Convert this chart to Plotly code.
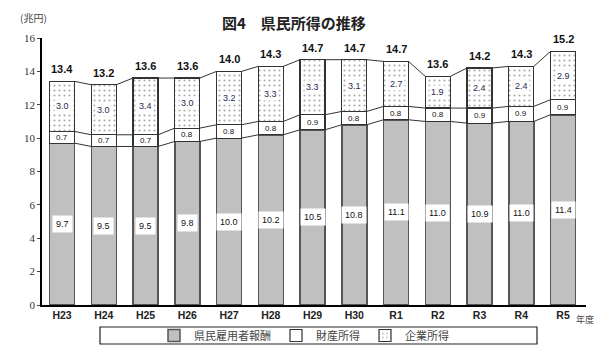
import plotly.graph_objects as go

categories = ["H23", "H24", "H25", "H26", "H27", "H28", "H29", "H30", "R1", "R2", "R3", "R4", "R5"]
employee = [9.7, 9.5, 9.5, 9.8, 10.0, 10.2, 10.5, 10.8, 11.1, 11.0, 10.9, 11.0, 11.4]
property_inc = [0.7, 0.7, 0.7, 0.8, 0.8, 0.8, 0.9, 0.8, 0.8, 0.8, 0.9, 0.9, 0.9]
corporate = [3.0, 3.0, 3.4, 3.0, 3.2, 3.3, 3.3, 3.1, 2.7, 1.9, 2.4, 2.4, 2.9]
totals = [13.4, 13.2, 13.6, 13.6, 14.0, 14.3, 14.7, 14.7, 14.7, 13.6, 14.2, 14.3, 15.2]
y_ticks = [0, 2, 4, 6, 8, 10, 12, 14, 16]

xs = list(range(len(categories)))
W = 0.6

fig = go.Figure()
fig.add_trace(go.Bar(x=xs, y=employee, width=W, name="県民雇用者報酬",
                     marker=dict(color="#c0c0c0", line=dict(color="#555555", width=1.5))))
fig.add_trace(go.Bar(x=xs, y=property_inc, width=W, name="財産所得",
                     marker=dict(color="white", line=dict(color="#333333", width=1.2))))
fig.add_trace(go.Bar(x=xs, y=corporate, width=W, name="企業所得",
                     marker=dict(color="white", line=dict(color="#333333", width=1.2),
                                 pattern=dict(shape=".", fgcolor="#555555", bgcolor="white",
                                              size=5, solidity=0.15))))

# connector lines
lvl1 = employee
lvl2 = [a + b for a, b in zip(employee, property_inc)]
lvl3 = [a + b + c for a, b, c in zip(employee, property_inc, corporate)]
for lv in (lvl1, lvl2, lvl3):
    for i in range(len(xs) - 1):
        fig.add_trace(go.Scatter(x=[xs[i] + W / 2, xs[i + 1] - W / 2], y=[lv[i], lv[i + 1]],
                                 mode="lines", line=dict(color="#333333", width=1),
                                 showlegend=False, hoverinfo="skip"))

anns = []
for i, x in enumerate(xs):
    anns.append(dict(x=x, y=employee[i] / 2, text=f"{employee[i]:.1f}", showarrow=False,
                     bgcolor="white", font=dict(size=9, color="#111", family="Arial"),
                     borderpad=3))
    anns.append(dict(x=x, y=employee[i] + property_inc[i] / 2, text=f"{property_inc[i]:.1f}",
                     showarrow=False, bgcolor="white",
                     font=dict(size=8, color="#111", family="Arial"), borderpad=0))
    anns.append(dict(x=x, y=lvl2[i] + corporate[i] / 2, text=f"{corporate[i]:.1f}",
                     showarrow=False, bgcolor="white",
                     font=dict(size=9, color="#2a2a55", family="Arial"), borderpad=1))
    anns.append(dict(x=x, y=lvl3[i], yshift=12, text=f"<b>{totals[i]:.1f}</b>", showarrow=False,
                     font=dict(size=11, color="#111", family="Arial")))

anns.append(dict(xref="paper", yref="paper", x=0.5, xshift=-20, y=1, yshift=16, xanchor="center",
                 yanchor="middle",
                 text="<b>図4　県民所得の推移</b>", showarrow=False,
                 font=dict(size=15, color="#222", family="Noto Sans CJK JP")))
anns.append(dict(xref="paper", yref="paper", x=0, xshift=-24, y=1, yshift=21, xanchor="left",
                 yanchor="middle",
                 text="(兆円)", showarrow=False,
                 font=dict(size=10, color="#444", family="Noto Sans CJK JP")))
anns.append(dict(xref="paper", yref="paper", x=1, xshift=-12, y=0, yshift=-14, xanchor="left",
                 yanchor="middle",
                 text="年度", showarrow=False,
                 font=dict(size=9, color="#444", family="Noto Sans CJK JP")))

fig.update_layout(
    barmode="stack",
    width=613, height=353,
    margin=dict(l=42, r=27, t=38, b=48, autoexpand=False),
    paper_bgcolor="white", plot_bgcolor="white",
    annotations=anns,
    shapes=[dict(type="rect", xref="paper", yref="paper",
                 x0=(100 - 42) / 544, x1=(537 - 42) / 544,
                 y0=(305 - 344) / 267, y1=(305 - 327) / 267,
                 line=dict(color="#222", width=1.2), fillcolor="rgba(0,0,0,0)")],
    showlegend=True,
    legend=dict(orientation="h", x=(304 - 42) / 544, xanchor="center", yref="container",
                y=(353 - 335.5) / 353, yanchor="middle", traceorder="normal",
                borderwidth=0, bgcolor="rgba(0,0,0,0)",
                font=dict(size=11, color="#444", family="Noto Sans CJK JP"),
                itemwidth=30),
    xaxis=dict(range=[-0.48, 12.55], tickvals=xs, ticktext=[f"<b>{c}</b>" for c in categories],
               showgrid=False,
               showline=True, linecolor="black", linewidth=1.5, ticks="",
               tickfont=dict(size=10.5, color="#222", family="Liberation Sans Narrow, Arial"),
               zeroline=False),
    yaxis=dict(range=[0, 16], tickvals=y_ticks, showgrid=False, showline=True,
               linecolor="black", linewidth=1.5, ticks="outside", ticklen=3,
               tickfont=dict(size=11, color="#333", family="Liberation Serif"),
               zeroline=False),
)

fig.write_html("out.html")
